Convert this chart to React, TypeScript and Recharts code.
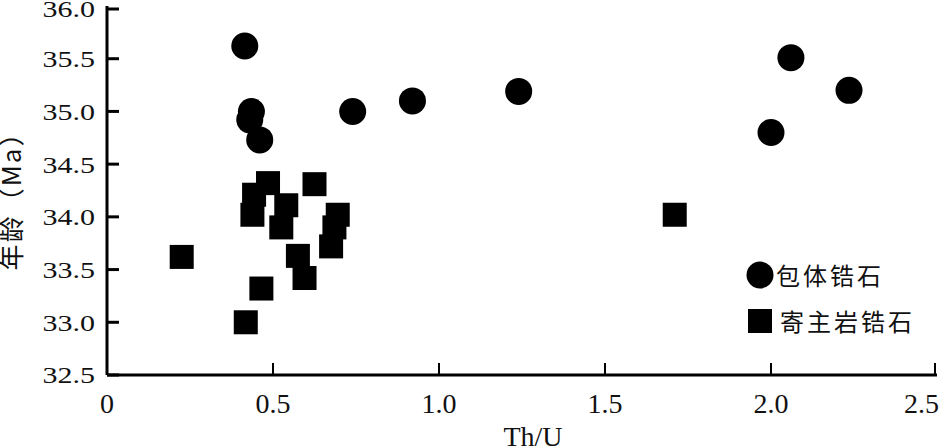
import React from 'react';
import { ScatterChart, Scatter, XAxis, YAxis, Legend } from 'recharts';

// 包体锆石 (inclusion zircons)
const inclusionThU = [0.415, 0.435, 0.43, 0.46, 0.74, 0.92, 1.24, 2.06, 2.235, 2.0];
const inclusionAge = [35.62, 35.0, 34.92, 34.73, 35.0, 35.1, 35.19, 35.51, 35.2, 34.8];

// 寄主岩锆石 (host rock zircons)
const hostThU = [0.225, 0.485, 0.625, 0.443, 0.54, 0.438, 0.695, 0.525, 0.685, 0.675, 0.575, 0.595, 0.465, 0.418, 1.71];
const hostAge = [33.62, 34.32, 34.31, 34.21, 34.11, 34.02, 34.02, 33.9, 33.9, 33.72, 33.63, 33.42, 33.32, 33.0, 34.02];

const xTicks = [0, 0.5, 1.0, 1.5, 2.0, 2.5];
const yTicks = [32.5, 33.0, 33.5, 34.0, 34.5, 35.0, 35.5, 36.0];

const inclusionData = inclusionThU.map((x, i) => ({ x, y: inclusionAge[i] }));
const hostData = hostThU.map((x, i) => ({ x, y: hostAge[i] }));

const serif = '"Liberation Serif", "DejaVu Serif", serif';
const cjk = '"Noto Sans CJK SC", sans-serif';

const Y_MARGIN = 12;
const X_MARGIN = 16;

const YTick = (props: any) => {
  const { x, y, payload } = props;
  const ax = x + Y_MARGIN;
  return (
    <g>
      <line x1={ax} y1={y} x2={ax + 12} y2={y} stroke="#000" strokeWidth={3} />
      <text transform={`translate(${x},${y}) scale(1.25,1)`} textAnchor="end" dy="0.35em"
        style={{ fontFamily: serif, fontSize: 24 }} fill="#111">
        {payload.value.toFixed(1)}
      </text>
    </g>
  );
};

const XTick = (props: any) => {
  const { x, y, payload } = props;
  const ay = y - X_MARGIN;
  const v = payload.value;
  const last = v === xTicks[xTicks.length - 1];
  return (
    <g>
      <line x1={x} y1={ay} x2={x} y2={ay - 12} stroke="#000" strokeWidth={2} />
      <text x={last ? x + 4 : x} y={y} textAnchor={last ? 'end' : 'middle'} dy="0.8em"
        style={{ fontFamily: serif, fontSize: 28 }} fill="#111">
        {v === 0 ? '0' : v.toFixed(1)}
      </text>
    </g>
  );
};

const Dot = (props: any) => <circle cx={props.cx} cy={props.cy} r={13.5} fill="#000" />;
const Square = (props: any) => <rect x={props.cx - 12} y={props.cy - 12} width={24} height={24} fill="#000" />;

const LegendBox = () => (
  <div style={{ fontFamily: cjk, fontSize: 24, color: '#111', lineHeight: '46px' }}>
    <div style={{ display: 'flex', alignItems: 'center' }}>
      <svg width={28} height={28}><circle cx={14} cy={14} r={13.5} fill="#000" /></svg>
      <span style={{ marginLeft: 2, letterSpacing: 3 }}>包体锆石</span>
    </div>
    <div style={{ display: 'flex', alignItems: 'center' }}>
      <svg width={28} height={28}><rect x={2} y={2} width={24} height={24} fill="#000" /></svg>
      <span style={{ marginLeft: 6, letterSpacing: 3 }}>寄主岩锆石</span>
    </div>
  </div>
);

export default function App() {
  return (
    <div style={{ position: 'absolute', left: 0, top: 0, background: '#fff' }}>
      <ScatterChart width={945} height={448} margin={{ top: 6, right: 8, left: 0, bottom: 0 }}>
        <XAxis
          type="number"
          dataKey="x"
          domain={[0, 2.5]}
          ticks={xTicks}
          height={73}
          tickSize={0}
          tickMargin={X_MARGIN}
          tick={<XTick />}
          axisLine={{ stroke: '#000', strokeWidth: 3 }}
          label={{
            content: (p: any) => (
              <text x={533} y={p.viewBox.y + 71} textAnchor="middle"
                style={{ fontFamily: serif, fontSize: 28 }} fill="#111">Th/U</text>
            ),
          }}
        />
        <YAxis
          type="number"
          dataKey="y"
          domain={[32.5, 36.0]}
          ticks={yTicks}
          width={107}
          tickSize={0}
          tickMargin={Y_MARGIN}
          tick={<YTick />}
          axisLine={{ stroke: '#000', strokeWidth: 3 }}
          label={{
            content: (p: any) => {
              const cx = 14;
              const cy = p.viewBox.y + p.viewBox.height / 2 + 4;
              return (
                <text x={cx} y={cy} transform={`rotate(-90, ${cx}, ${cy})`} textAnchor="middle"
                  dominantBaseline="middle" style={{ fontFamily: cjk, fontSize: 26, letterSpacing: 2 }}
                  fill="#111">年龄（Ma）</text>
              );
            },
          }}
        />
        <Legend
          layout="horizontal"
          verticalAlign="middle"
          align="center"
          wrapperStyle={{ left: 746, top: 252, width: 200 }}
          content={<LegendBox />}
        />
        <Scatter name="包体锆石" data={inclusionData} shape={<Dot />} isAnimationActive={false} />
        <Scatter name="寄主岩锆石" data={hostData} shape={<Square />} isAnimationActive={false} />
      </ScatterChart>
    </div>
  );
}
